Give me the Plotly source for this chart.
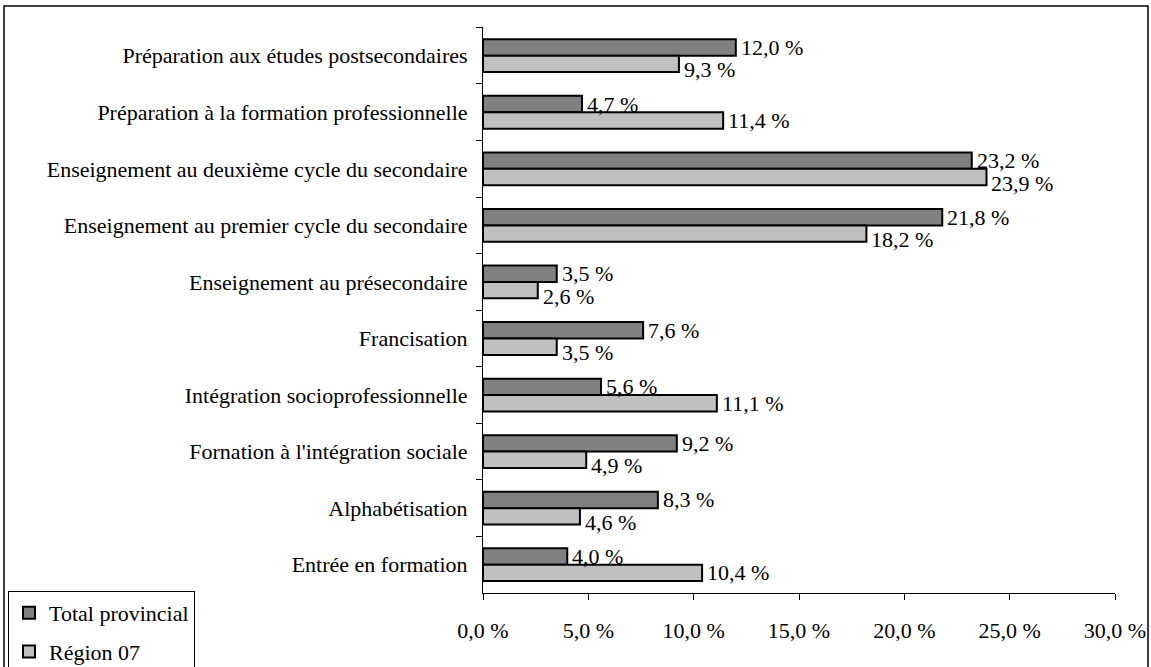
import plotly.graph_objects as go

categories = [
    "Préparation aux études postsecondaires",
    "Préparation à la formation professionnelle",
    "Enseignement au deuxième cycle du secondaire",
    "Enseignement au premier cycle du secondaire",
    "Enseignement au présecondaire",
    "Francisation",
    "Intégration socioprofessionnelle",
    "Fornation à l'intégration sociale",
    "Alphabétisation",
    "Entrée en formation",
]
total_provincial = [12.0, 4.7, 23.2, 21.8, 3.5, 7.6, 5.6, 9.2, 8.3, 4.0]
region_07 = [9.3, 11.4, 23.9, 18.2, 2.6, 3.5, 11.1, 4.9, 4.6, 10.4]
x_ticks = [0, 5, 10, 15, 20, 25, 30]

FONT = "Liberation Serif, Times New Roman, serif"
FS = 22


def fmt(v):
    return f"{v:.1f} %".replace(".", ",")


W, H = 1151, 667
L, R, T, B = 483, 36, 27, 74
pw, ph = W - L - R, H - T - B
band_px = ph / len(categories)
bargap = 0.42
bar_px = band_px * (1 - bargap) / 2

fig = go.Figure()
fig.add_trace(go.Bar(
    name="Total provincial", y=categories, x=total_provincial, orientation="h",
    marker=dict(color="#808080", line=dict(color="black", width=2)),
    legendgroup="a",
))
fig.add_trace(go.Bar(
    name="Région 07", y=categories, x=region_07, orientation="h",
    marker=dict(color="#C0C0C0", line=dict(color="black", width=2)),
    legendgroup="b",
))

annotations = []
for cat, a, b in zip(categories, total_provincial, region_07):
    annotations.append(dict(
        x=a, y=cat, xref="x", yref="y", text=fmt(a), showarrow=False,
        xanchor="left", yanchor="middle", xshift=3, yshift=bar_px / 2,
        font=dict(family=FONT, size=FS, color="black"),
    ))
    extra = 6 if b < a + 2 else 0
    annotations.append(dict(
        x=b, y=cat, xref="x", yref="y", text=fmt(b), showarrow=False,
        xanchor="left", yanchor="middle", xshift=3, yshift=-bar_px / 2 - extra,
        font=dict(family=FONT, size=FS, color="black"),
    ))


def px_x(x):
    return (x - L) / pw


def px_y(y):
    return (H - B - y) / ph


fig.update_layout(
    width=W, height=H,
    margin=dict(l=L, r=R, t=T, b=B, pad=0, autoexpand=False),
    paper_bgcolor="white", plot_bgcolor="white",
    barmode="group", bargap=bargap, bargroupgap=0,
    font=dict(family=FONT, size=FS, color="black"),
    showlegend=True,
    legend=dict(
        x=px_x(8), y=px_y(591), xanchor="left", yanchor="top",
        bordercolor="black", borderwidth=1, bgcolor="white",
        font=dict(family=FONT, size=FS, color="black"),
        tracegroupgap=7, traceorder="grouped", itemwidth=30,
    ),
    xaxis=dict(
        range=[0, 30], tickvals=x_ticks, ticktext=[fmt(v) for v in x_ticks],
        showgrid=False, zeroline=False, showline=True, linecolor="black", linewidth=1,
        ticks="outside", ticklen=6, tickcolor="black", ticklabelstandoff=12,
        tickfont=dict(family=FONT, size=FS, color="black"),
    ),
    yaxis=dict(
        autorange="reversed", showgrid=False, zeroline=False,
        showline=True, linecolor="black", linewidth=1,
        ticks="outside", ticklen=6, tickcolor="black", tickson="boundaries",
        ticklabelstandoff=10,
        tickfont=dict(family=FONT, size=FS, color="black"),
    ),
    annotations=annotations,
    shapes=[dict(
        type="rect", xref="paper", yref="paper",
        x0=px_x(4), x1=px_x(1148), y0=px_y(675), y1=px_y(6),
        line=dict(color="black", width=1.5), fillcolor="rgba(0,0,0,0)", layer="below",
    )],
)

fig.write_html(
    "out.html",
    config={"displayModeBar": False},
    post_script="document.body.style.margin='0';document.body.style.overflow='hidden';",
)
